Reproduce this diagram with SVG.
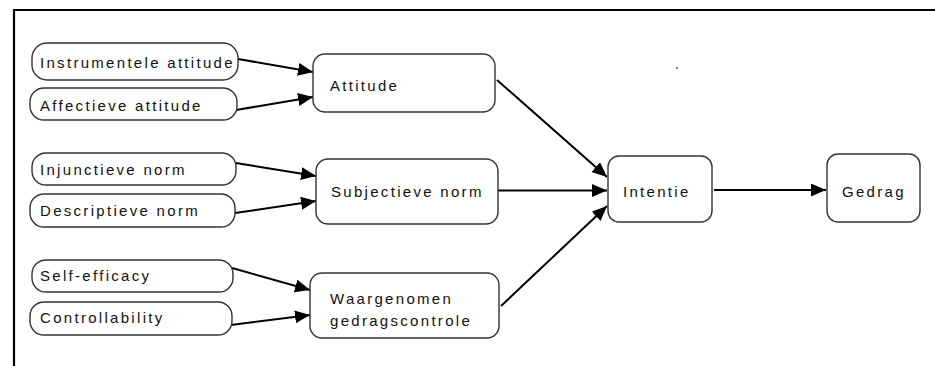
<svg xmlns="http://www.w3.org/2000/svg" width="935" height="366" viewBox="0 0 935 366">
<style>
.box{fill:#fff;stroke:#333;stroke-width:1.4}
.t{font-family:"Liberation Sans",Arial,sans-serif;font-size:15px;letter-spacing:2.3px;fill:#111}
.c{stroke:#000;stroke-width:2;fill:none;marker-end:url(#ah)}
</style>
<defs>
<marker id="ah" markerUnits="userSpaceOnUse" markerWidth="16" markerHeight="14" refX="15" refY="6.5" orient="auto">
<path d="M0,0 L15,6.5 L0,13 z" fill="#000"/>
</marker>
</defs>
<rect x="0" y="0" width="935" height="366" fill="#fff"/>
<path d="M14,366 L14,10 L935,10" fill="none" stroke="#000" stroke-width="2.2"/>
<circle cx="677" cy="68" r="0.9" fill="#444"/>
<g id="connectors">
<line class="c" x1="238" y1="59" x2="313" y2="72"/>
<line class="c" x1="236" y1="110" x2="313" y2="97"/>
<line class="c" x1="236" y1="163" x2="316" y2="176"/>
<line class="c" x1="235" y1="213" x2="316" y2="201"/>
<line class="c" x1="232" y1="268" x2="310" y2="290"/>
<line class="c" x1="231" y1="325" x2="310" y2="315"/>
<line class="c" x1="497" y1="80" x2="607" y2="177"/>
<line class="c" x1="498" y1="190.5" x2="607" y2="190.5"/>
<line class="c" x1="501" y1="306" x2="607" y2="206"/>
<line class="c" x1="714" y1="190" x2="826" y2="190"/>
</g>
<g id="n-instrumentele"><rect class="box" x="32" y="43" width="206" height="37" rx="15"/><text class="t" x="40" y="68">Instrumentele attitude</text></g>
<g id="n-affectieve"><rect class="box" x="30" y="88" width="207" height="32" rx="14"/><text class="t" x="40" y="111">Affectieve attitude</text></g>
<g id="n-injunctieve"><rect class="box" x="32" y="153" width="204" height="32" rx="14"/><text class="t" x="40" y="175">Injunctieve norm</text></g>
<g id="n-descriptieve"><rect class="box" x="30" y="194" width="205" height="33" rx="14"/><text class="t" x="40" y="216">Descriptieve norm</text></g>
<g id="n-selfefficacy"><rect class="box" x="32" y="260" width="201" height="32" rx="14"/><text class="t" x="40" y="281">Self-efficacy</text></g>
<g id="n-controllability"><rect class="box" x="30" y="302" width="202" height="33" rx="14"/><text class="t" x="40" y="323">Controllability</text></g>
<g id="n-attitude"><rect class="box" x="313" y="54" width="182" height="58" rx="12"/><text class="t" x="330" y="91">Attitude</text></g>
<g id="n-subjectieve"><rect class="box" x="316" y="159" width="182" height="65" rx="12"/><text class="t" x="331" y="197">Subjectieve norm</text></g>
<g id="n-waargenomen"><rect class="box" x="310" y="273" width="189" height="65" rx="12"/><text class="t" x="330" y="304">Waargenomen</text><text class="t" x="330" y="326">gedragscontrole</text></g>
<g id="n-intentie"><rect class="box" x="608" y="156" width="104" height="66" rx="11"/><text class="t" x="623" y="197">Intentie</text></g>
<g id="n-gedrag"><rect class="box" x="827" y="154" width="93" height="68" rx="11"/><text class="t" x="842" y="197">Gedrag</text></g>
</svg>
